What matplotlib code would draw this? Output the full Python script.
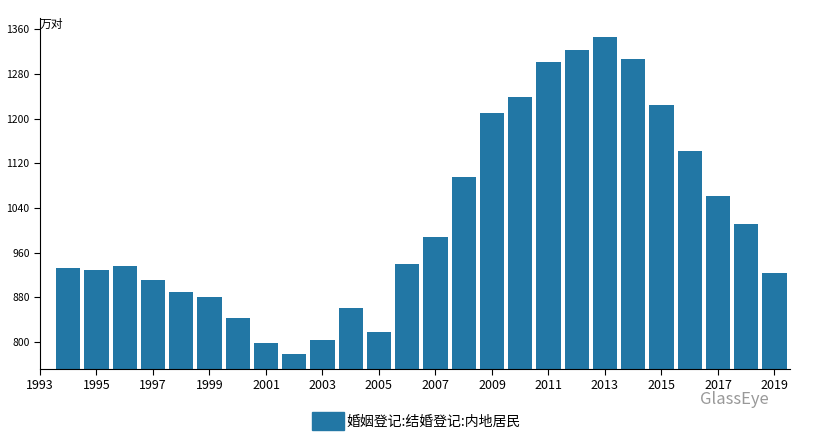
import numpy as np
import matplotlib.pyplot as plt
from matplotlib.patches import Patch

plt.rcParams['font.family'] = ['Noto Sans CJK SC', 'DejaVu Sans']

years = list(range(1994, 2020))
marriages = [932.5, 929.7, 935.5, 911.0, 889.0, 880.5, 843.0, 798.0, 779.0,
             804.5, 861.0, 818.0, 940.0, 988.0, 1095.0, 1210.0, 1238.0,
             1301.0, 1322.0, 1346.0, 1306.0, 1224.0, 1142.0, 1062.0,
             1012.0, 924.0]
yticks = [800, 880, 960, 1040, 1120, 1200, 1280, 1360]
xticks = list(range(1993, 2020, 2))

W, H = 833, 438
fig = plt.figure(figsize=(W / 100, H / 100), dpi=100)
ax = fig.add_axes([40 / W, 1 - 369 / H, 750 / W, 351 / H])

color = '#2277a5'
ax.bar(years, marriages, width=0.86, color=color, bottom=0)
ax.set_xlim(1993, 2019.55)
ax.set_ylim(752, 1380)
ax.set_yticks(yticks)
ax.set_xticks(xticks)
ax.tick_params(axis='y', labelsize=7.5, length=4)
ax.tick_params(axis='x', labelsize=9, length=4)
for s in ['top', 'right']:
    ax.spines[s].set_visible(False)
ax.text(0, 1.0, '万对', transform=ax.transAxes, fontsize=8.5,
        va='top', ha='left')

fig.legend(handles=[Patch(color=color)], labels=['婚姻登记:结婚登记:内地居民'],
           loc='center', bbox_to_anchor=(0.5, 1 - 421 / H), frameon=False,
           fontsize=10, handlelength=2.3, handleheight=1.6, handletextpad=0.2)
fig.text(0.84, 1 - 404 / H, 'GlassEye', fontsize=12, color='#999999')

fig.savefig('out.png', dpi=100)
